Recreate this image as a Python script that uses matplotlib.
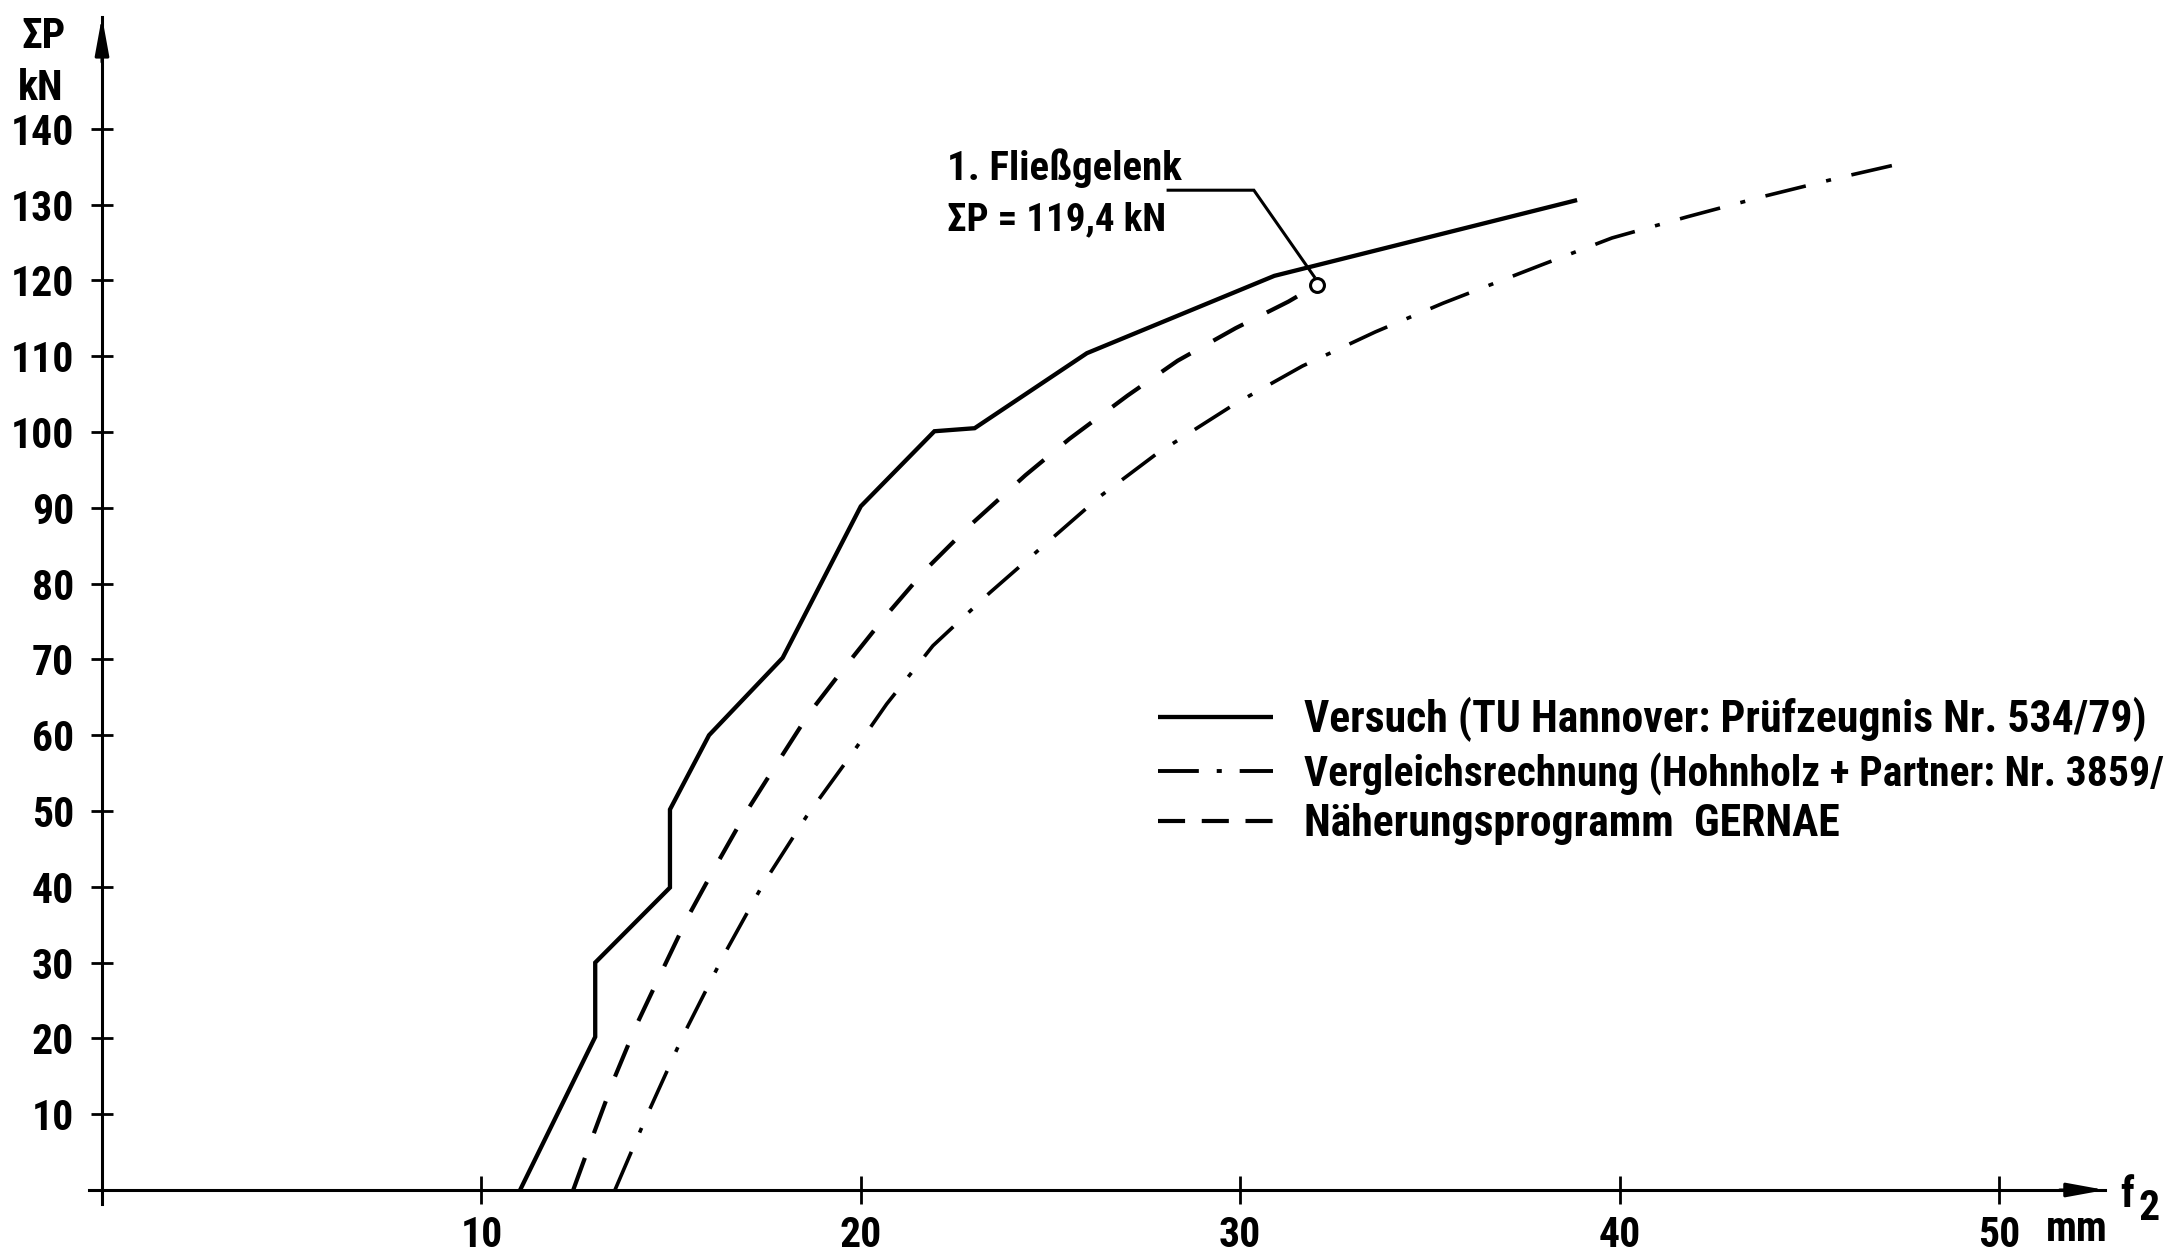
import matplotlib
matplotlib.use("Agg")
import matplotlib.pyplot as plt
from matplotlib import font_manager
from matplotlib.lines import Line2D

# ---------------- data ----------------
# Versuch (test), deflection f2 [mm] vs. total load ΣP [kN]
versuch_f = [11.02, 13.0, 13.0, 14.97, 14.97, 16.0, 17.94, 20.0, 21.94, 23.0, 25.96, 30.9, 38.88]
versuch_p = [0, 20.2, 30.0, 39.9, 50.2, 60.0, 70.2, 90.2, 100.1, 100.5, 110.4, 120.6, 130.6]

# Näherungsprogramm GERNAE
gernae_f = [12.42, 12.98, 13.52, 14.09, 14.77, 15.45, 16.16, 17.01, 17.82, 18.64, 19.55,
            20.65, 21.7, 22.86, 24.34, 25.5, 27.03, 28.35, 29.88, 31.27, 32.02]
gernae_p = [0, 7.7, 14.95, 21.8, 29.0, 36.1, 42.6, 50.1, 56.5, 62.9, 68.8,
            75.7, 81.8, 87.6, 94.3, 99.1, 104.8, 109.4, 113.7, 117.2, 119.4]

# Vergleichsrechnung
vergleich_f = [13.52, 14.36, 15.31, 16.38, 17.43, 18.57, 19.76, 20.68, 21.9, 23.4, 24.84,
               26.33, 27.79, 29.86, 31.64, 33.56, 35.35, 37.92, 39.8, 41.79, 43.81, 45.83, 47.4]
vergleich_p = [0, 9.8, 20.3, 30.9, 40.4, 49.3, 57.5, 64.1, 71.8, 78.8, 85.1,
               91.6, 97.1, 103.7, 108.7, 113.2, 117.0, 122.0, 125.6, 128.4, 131.1, 133.6, 135.4]

# first plastic hinge
fliess_f = 32.02
fliess_p = 119.4

x_ticks = [10, 20, 30, 40, 50]
y_ticks = [10, 20, 30, 40, 50, 60, 70, 80, 90, 100, 110, 120, 130, 140]

legend_labels = [
    "Versuch (TU Hannover: Prüfzeugnis Nr. 534/79)",
    "Vergleichsrechnung (Hohnholz + Partner: Nr. 3859/",
    "Näherungsprogramm  GERNAE",
]

# ---------------- fonts ----------------
available = {f.name for f in font_manager.fontManager.ttflist}
base = "DejaVu Sans"
for name in ["Liberation Sans Narrow", "DejaVu Sans Condensed", "Roboto Condensed",
             "Open Sans Condensed", "Liberation Sans"]:
    if name in available:
        base = name
        break
plt.rcParams["font.family"] = [base, "DejaVu Sans"]
plt.rcParams["font.weight"] = "bold"

# ---------------- figure / axes geometry ----------------
W, H, DPI = 2175, 1253, 100
fig = plt.figure(figsize=(W / DPI, H / DPI), dpi=DPI, facecolor="white")

X0_PX, Y0_PX = 102.0, 1190.0        # pixel position of the origin
PX_PER_MM, PX_PER_KN = 37.94, 7.58
xmin, xmax = -0.35, 52.8
ymin, ymax = -1.8, 154.8
left = (X0_PX + xmin * PX_PER_MM) / W
right = (X0_PX + xmax * PX_PER_MM) / W
bottom = 1 - (Y0_PX - ymin * PX_PER_KN) / H
top = 1 - (Y0_PX - ymax * PX_PER_KN) / H
ax = fig.add_axes([left, bottom, right - left, top - bottom])
ax.set_xlim(xmin, xmax)
ax.set_ylim(ymin, ymax)
ax.patch.set_visible(False)

for s in ["top", "right"]:
    ax.spines[s].set_visible(False)
for s in ["left", "bottom"]:
    ax.spines[s].set_position(("data", 0))
    ax.spines[s].set_linewidth(2.2)

ax.set_xticks(x_ticks)
ax.set_yticks(y_ticks)
ax.tick_params(axis="both", direction="inout", width=2.0, colors="black", labelsize=30)
ax.tick_params(axis="y", length=16, pad=12)
ax.tick_params(axis="x", length=20, pad=8)

# axis arrows
arrow = dict(arrowstyle="-|>,head_length=2.3,head_width=0.42", color="black",
             lw=2.2, shrinkA=0, shrinkB=0, mutation_scale=10)
ax.annotate("", xy=(xmax, 0), xytext=(xmax - 1.2, 0), arrowprops=arrow, annotation_clip=False)
ax.annotate("", xy=(0, ymax), xytext=(0, ymax - 6), arrowprops=arrow, annotation_clip=False)

# ---------------- curves ----------------
ax.plot(versuch_f, versuch_p, color="black", lw=3.1, solid_joinstyle="miter",
        solid_capstyle="butt", clip_on=False)
ax.plot(gernae_f, gernae_p, color="black", lw=3.0, linestyle=(0, (8.2, 6.3)),
        dash_capstyle="butt", clip_on=False)
ax.plot(vergleich_f, vergleich_p, color="black", lw=2.6, linestyle=(0, (11.5, 5.8, 1.4, 5.8)),
        dash_capstyle="butt", clip_on=False)

# plastic hinge marker and leader
leader_f = [28.1, 30.36, 31.95]
leader_p = [131.9, 131.9, 120.5]
ax.plot(leader_f, leader_p, color="black", lw=2.2, solid_joinstyle="miter")
ax.plot([fliess_f], [fliess_p], marker="o", ms=10, mfc="white", mec="black", mew=2.2, zorder=5)
ax.text(22.26, 133.2, "1. Fließgelenk", fontsize=29.5, va="baseline", ha="left")
ax.text(22.26, 126.6, "ΣP = " + f"{fliess_p:.1f}".replace(".", ",") + " kN",
        fontsize=28, va="baseline", ha="left")

# ---------------- axis titles ----------------
def fx(px):
    return px / W

def fy(py):
    return 1 - py / H

fig.text(fx(66), fy(48), "ΣP", fontsize=30, ha="right", va="baseline")
fig.text(fx(63), fy(100), "kN", fontsize=30, ha="right", va="baseline")
fig.text(fx(2046), fy(1241), "mm", fontsize=30, ha="left", va="baseline")
fig.text(fx(2120), fy(1207), "f", fontsize=30, ha="left", va="baseline")
fig.text(fx(2138), fy(1220), "2", fontsize=30, ha="left", va="baseline")

# ---------------- legend ----------------
leg_x0, leg_x1, leg_tx = 1158, 1273, 1304
leg_rows = [717, 771, 821]
leg_sizes = [31.5, 30, 31.5]
leg_styles = [
    dict(lw=3.1, linestyle="-"),
    dict(lw=2.8, linestyle=(0, (10.5, 4.6, 1.3, 4.6))),
    dict(lw=3.0, linestyle=(0, (6.5, 4.0))),
]
for row, label, size, style in zip(leg_rows, legend_labels, leg_sizes, leg_styles):
    fig.add_artist(Line2D([fx(leg_x0), fx(leg_x1)], [fy(row), fy(row)],
                          transform=fig.transFigure, color="black",
                          dash_capstyle="butt", solid_capstyle="butt", **style))
    fig.text(fx(leg_tx), fy(row + 15), label, fontsize=size, ha="left", va="baseline")

fig.savefig("out.png", dpi=DPI, facecolor="white")
